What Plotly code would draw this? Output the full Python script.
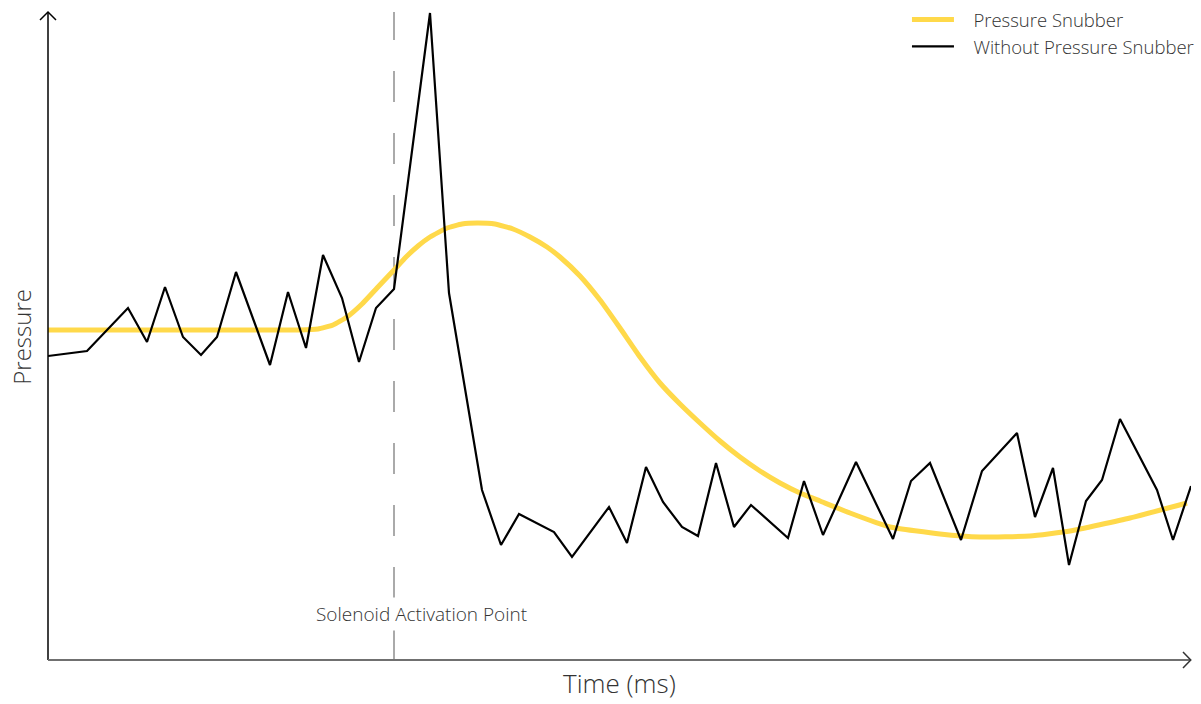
import plotly.graph_objects as go

# Black line: without pressure snubber (time, pressure in arbitrary units)
raw_time = [0, 39, 80, 99, 117, 135, 153, 169, 188, 222, 240, 258, 275, 294, 311, 328, 346,
            382, 401, 434, 453, 471, 506, 524, 561, 579, 598, 615, 634, 650, 668, 686, 703,
            740, 756, 775, 808, 845, 863, 882, 913, 934, 969, 987, 1005, 1021, 1038, 1054,
            1072, 1109, 1125, 1143]
raw_pressure = [304, 309, 352, 318, 373, 323, 305, 323, 388, 295, 368, 312, 405, 362, 298, 352, 371,
                647, 367, 170, 115, 146, 128, 103, 153, 117, 193, 158, 133, 124, 197, 133, 155,
                122, 179, 125, 198, 121, 179, 197, 120, 189, 227, 143, 192, 95, 159, 180,
                241, 170, 120, 174]

# Yellow line: with pressure snubber
snub_time = [0, 152, 252, 270, 285, 299, 314, 329, 346, 358, 370, 382, 399, 414, 429, 447,
             465, 482, 499, 512, 532, 552, 572, 592, 612, 632, 652, 672, 692, 712, 732, 752,
             772, 802, 842, 892, 932, 982, 1022, 1082, 1139]
snub_pressure = [330, 330, 330, 331, 335, 343, 356, 372, 390, 403, 414, 423, 432, 436, 437, 436,
                 431, 423, 413, 403, 384, 360, 332, 303, 277, 256, 237, 219, 203, 189, 177, 167,
                 159, 147, 133, 126, 123, 124, 129, 142, 157]

activation_time = 346
x_range = [0, 1143]
y_range = [0, 648]

INK = "#333333"
FONT = "Open Sans"
NB = "\u00a0"

fig = go.Figure()
fig.add_trace(go.Scatter(x=snub_time, y=snub_pressure, mode="lines",
                         name=NB * 3 + "Pressure Snubber",
                         line=dict(color="#FFD94A", width=5, shape="spline", smoothing=0.4)))
fig.add_trace(go.Scatter(x=raw_time, y=raw_pressure, mode="lines",
                         name=NB * 3 + "Without Pressure Snubber",
                         line=dict(color="#000000", width=2.2)))

fig.add_shape(type="line", xref="x", yref="paper", x0=activation_time, x1=activation_time,
              y0=0, y1=1, line=dict(color="#aaaaaa", width=2, dash="31px,31px"), layer="below")
fig.add_annotation(x=activation_time, xref="x", y=46, yref="y", text="Solenoid Activation Point",
                   showarrow=False, xanchor="center", yanchor="middle", xshift=27,
                   font=dict(family=FONT, size=19, color=INK, weight=300),
                   bgcolor="white", borderpad=3)

# axes with open arrowheads (paper coords)
fig.add_shape(type="line", xref="paper", yref="paper", x0=0, x1=0, y0=0, y1=1,
              line=dict(color="#000000", width=1.5))
fig.add_shape(type="path", xref="paper", yref="paper",
              path="M -0.0070 0.9877 L 0 1 L 0.0070 0.9877",
              line=dict(color="#000000", width=1.5))
fig.add_shape(type="line", xref="paper", yref="paper", x0=0, x1=1, y0=0, y1=0,
              line=dict(color="#707070", width=2))
fig.add_shape(type="path", xref="paper", yref="paper",
              path="M 0.9930 0.0123 L 0.9998 0 L 0.9930 -0.0123",
              line=dict(color="#333333", width=1.5))

fig.add_annotation(x=0.5, y=-0.0664, xref="paper", yref="paper", text="Time (ms)", showarrow=False,
                   xanchor="center", yanchor="bottom", font=dict(family=FONT, size=26, color=INK, weight=300))
fig.add_annotation(x=-0.0227, y=0.499, xref="paper", yref="paper", text="Pressure", showarrow=False,
                   textangle=-90, xanchor="center", yanchor="middle",
                   font=dict(family=FONT, size=24, color=INK, weight=300))

fig.update_xaxes(range=x_range, visible=False, showgrid=False, zeroline=False)
fig.update_yaxes(range=y_range, visible=False, showgrid=False, zeroline=False)

fig.update_layout(
    width=1201, height=704,
    margin=dict(l=48, r=10, t=12, b=44, autoexpand=False),
    plot_bgcolor="white", paper_bgcolor="white",
    showlegend=True,
    legend=dict(x=0.7515, y=1.0172, xanchor="left", yanchor="top", bgcolor="rgba(0,0,0,0)",
                font=dict(family=FONT, size=18.5, color=INK, weight=300),
                tracegroupgap=0, itemwidth=42),
)

fig.write_html("out.html", config={"displayModeBar": False},
               post_script="document.body.style.margin='0';document.body.style.overflow='hidden';")
